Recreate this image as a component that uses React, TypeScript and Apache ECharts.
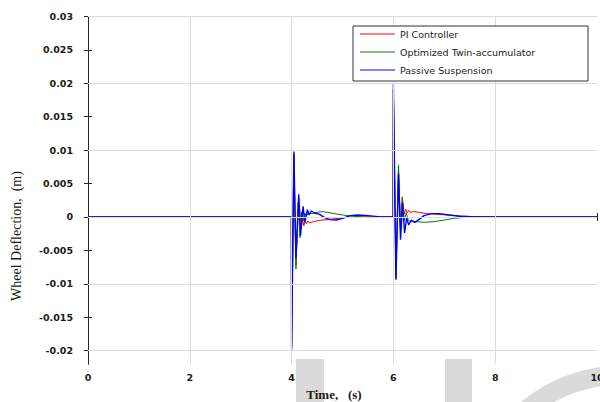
import React, { useEffect, useRef } from "react";
import * as echarts from "echarts";

const xTicks = [0, 2, 4, 6, 8, 10];
const yTicks = [-0.02, -0.015, -0.01, -0.005, 0, 0.005, 0.01, 0.015, 0.02, 0.025, 0.03];
const seriesNames = ["PI Controller", "Optimized Twin-accumulator", "Passive Suspension"];
const seriesColors = ["#ff0000", "#008000", "#0000ff"];

const piController: [number, number][] = [
  [0, 0], [3.995, 0], [4.0, -0.0195], [4.045, 0.0095], [4.085, -0.0072], [4.14, 0.0028],
  [4.19, -0.0016], [4.215, -0.0004], [4.24, -0.0013], [4.27, -0.0006], [4.29, -0.001],
  [4.32, -0.0006], [4.35, -0.0009], [4.43, -0.0007], [4.55, -0.0005], [4.7, -0.0004],
  [4.85, -0.00025], [5.05, -0.0001], [5.3, 0], [5.995, 0],
  [6.0, 0.0192], [6.05, -0.0088], [6.1, 0.0072], [6.14, -0.0015], [6.175, 0.003],
  [6.21, 0.0004], [6.24, 0.0012], [6.27, 0.0006], [6.3, 0.001], [6.33, 0.0007],
  [6.4, 0.0008], [6.5, 0.0007], [6.65, 0.0005], [6.85, 0.0004], [7.05, 0.0003],
  [7.3, 0.00015], [7.6, 0.00005], [8.0, 0], [10, 0],
];

const twinAccumulator: [number, number][] = [
  [0, 0], [3.995, 0], [4.0, -0.0195], [4.045, 0.0093], [4.085, -0.0078], [4.13, 0.0022],
  [4.165, -0.0031], [4.2, 0.0008], [4.225, -0.0006], [4.26, 0.0006], [4.29, 0.0001],
  [4.33, 0.0006], [4.4, 0.0005], [4.5, 0.0007], [4.6, 0.0008], [4.7, 0.0007],
  [4.85, 0.0005], [5.0, 0.0003], [5.2, 0.0001], [5.45, 0], [5.995, 0],
  [6.0, 0.019], [6.05, -0.0092], [6.1, 0.0078], [6.14, -0.0025], [6.175, 0.0028],
  [6.21, -0.0006], [6.25, 0.0006], [6.29, -0.0004], [6.33, -0.0007], [6.45, -0.0007],
  [6.6, -0.0008], [6.8, -0.0007], [7.0, -0.00045], [7.2, -0.0002], [7.4, -0.00005],
  [7.7, 0], [10, 0],
];

const passiveSuspension: [number, number][] = [
  [0, 0], [3.995, 0], [4.0, -0.0199], [4.045, 0.0098], [4.085, -0.0062], [4.14, 0.0034],
  [4.175, -0.0028], [4.225, 0.0016], [4.26, -0.0008], [4.31, 0.0011], [4.345, 0.0003],
  [4.39, 0.0009], [4.45, 0.0006], [4.55, 0.0004], [4.65, -0.0001], [4.75, -0.0004],
  [4.88, -0.00045], [5.0, -0.0002], [5.15, 0.0002], [5.3, 0.0003], [5.5, 0.0002],
  [5.7, 0.00005], [5.85, 0], [5.995, 0],
  [6.0, 0.0199], [6.05, -0.0094], [6.1, 0.0065], [6.14, -0.0034], [6.18, 0.0021],
  [6.22, -0.0024], [6.26, -0.0001], [6.3, -0.0012], [6.35, -0.00045], [6.42, -0.0008],
  [6.5, -0.0004], [6.6, 0.0002], [6.75, 0.0005], [6.9, 0.0005], [7.1, 0.0003],
  [7.3, 0.0001], [7.6, 0], [10, 0],
];

const seriesData = [piController, twinAccumulator, passiveSuspension];
const seriesWidths = [1, 1, 1.4];

const tickFont = "'DejaVu Sans', sans-serif";
const gridColor = "#dcdcdc";

export default function App() {
  const ref = useRef<HTMLDivElement>(null);
  useEffect(() => {
    if (!ref.current) return;
    const chart = echarts.init(ref.current, null, { renderer: "svg" });
    const axisLine = { show: true, lineStyle: { color: "#262626", width: 1 } };
    const fmt = (v: number) => String(parseFloat(Number(v).toFixed(3)));
    const gridSeries = {
      name: "grid",
      type: "line",
      data: [] as number[][],
      silent: true,
      z: 1,
      markLine: {
        silent: true,
        symbol: ["none", "none"],
        animation: false,
        label: { show: false },
        lineStyle: { color: gridColor, type: "solid", width: 1, opacity: 1 },
        emphasis: { disabled: true },
        data: [
          ...yTicks.filter((v) => v !== 0.03).map((v) => ({ yAxis: v })),
          ...xTicks.filter((v) => v !== 0 && v !== 10).map((v) => ({ xAxis: v })),
        ],
      },
    };
    chart.setOption({
      animation: false,
      backgroundColor: "#ffffff",
      grid: { left: 88, right: 3, top: 16.5, bottom: 38, outerBoundsMode: "none", containLabel: false },
      xAxis: [
        {
          type: "value", min: 0, max: 10, interval: 2, position: "bottom",
          axisLine,
          axisTick: { show: true, inside: true, length: 4, lineStyle: { color: "#262626" } },
          axisLabel: { show: true, margin: 8, fontFamily: tickFont, fontWeight: "bold", fontSize: 9.5, color: "#1a1a1a", formatter: (v: number) => String(v) },
          splitLine: { show: false },
        },
        {
          type: "value", min: 0, max: 10, interval: 2, position: "top",
          axisLine,
          axisTick: { show: true, inside: true, length: 4, lineStyle: { color: "#262626" } },
          axisLabel: { show: false },
          splitLine: { show: false },
        },
      ],
      yAxis: [
        {
          type: "value", min: -0.022, max: 0.03, position: "left",
          axisLine,
          axisTick: { show: true, inside: true, length: 4, customValues: yTicks, lineStyle: { color: "#262626" } },
          axisLabel: { show: true, margin: 15, customValues: yTicks, fontFamily: tickFont, fontWeight: "bold", fontSize: 9.5, color: "#1a1a1a", formatter: fmt },
          splitLine: { show: false },
        },
        {
          type: "value", min: -0.022, max: 0.03, position: "right",
          axisLine,
          axisTick: { show: true, inside: true, length: 4, customValues: yTicks, lineStyle: { color: "#262626" } },
          axisLabel: { show: false },
          splitLine: { show: false },
        },
      ],
      legend: {
        data: seriesNames,
        orient: "vertical",
        left: 353,
        top: 26,
        padding: [2, 0, 0, 7],
        icon: "rect",
        itemWidth: 35,
        itemHeight: 1,
        itemGap: 6,
        selectedMode: false,
        z: 20,
        textStyle: { fontFamily: tickFont, fontSize: 9.5, color: "#222", lineHeight: 12 },
      },
      graphic: [
        { type: "rect", z: -1, silent: true, shape: { x: 296, y: 359, width: 28, height: 43 }, style: { fill: "#dadada" } },
        { type: "rect", z: -1, silent: true, shape: { x: 445, y: 359, width: 27, height: 43 }, style: { fill: "#dadada" } },
        {
          type: "arc", z: -1, silent: true,
          shape: { cx: 620, cy: 520, r: 144.5, startAngle: (-140 * Math.PI) / 180, endAngle: (-60 * Math.PI) / 180, clockwise: true },
          style: { stroke: "#dadada", lineWidth: 19, fill: null },
        },
        { type: "rect", z: 15, silent: true, shape: { x: 353, y: 26, width: 235, height: 55 }, style: { fill: "#ffffff", stroke: "#333333", lineWidth: 1 } },
        {
          type: "text", z: 20, silent: true, x: 334, y: 394,
          style: { text: "Time,   (s)", font: "bold 13px 'Liberation Serif', serif", fill: "#1a1a1a", align: "center", verticalAlign: "middle" },
        },
        {
          type: "text", z: 20, silent: true, x: 16, y: 236, rotation: Math.PI / 2,
          style: { text: "Wheel Deflection,  (m)", font: "14px 'Liberation Serif', serif", fill: "#1a1a1a", align: "center", verticalAlign: "middle" },
        },
      ],
      series: [
        gridSeries,
        ...seriesData.map((d, i) => ({
          name: seriesNames[i],
          type: "line",
          data: d,
          showSymbol: false,
          symbol: "none",
          color: seriesColors[i],
          lineStyle: { color: seriesColors[i], width: seriesWidths[i] },
          z: 2 + i,
        })),
      ],
    });
    return () => chart.dispose();
  }, []);
  return <div ref={ref} style={{ position: "fixed", left: 0, top: 0, width: 600, height: 402, background: "#fff" }} />;
}
